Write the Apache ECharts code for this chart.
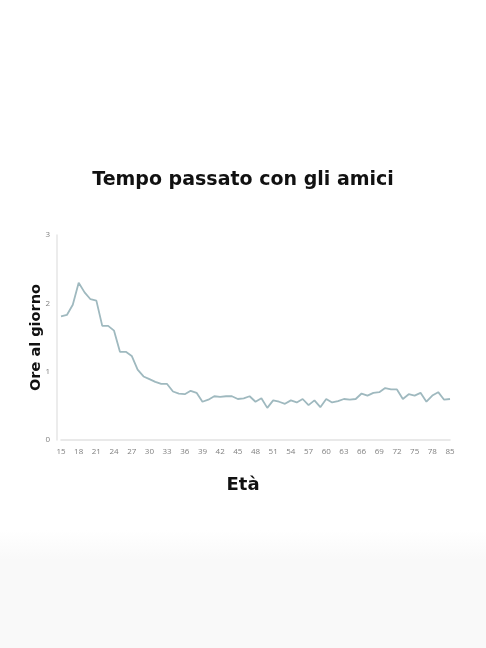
<!DOCTYPE html>
<html>
<head>
<meta charset="utf-8">
<script src="https://cdn.jsdelivr.net/npm/echarts@6/dist/echarts.min.js"></script>
<style>
html,body{margin:0;padding:0;width:486px;height:648px;background:linear-gradient(#ffffff 0px,#ffffff 530px,#f9f9f9 560px,#f9f9f9 648px);}
#c{width:486px;height:648px;}
</style>
</head>
<body>
<div id="c"></div>
<script>
const ages = ['15','16','17','18','19','20','21','22','23','24','25','26','27','28','29','30','31','32','33','34','35','36','37','38','39','40','41','42','43','44','45','46','47','48','49','50','51','52','53','54','55','56','57','58','59','60','61','62','63','64','65','66','67','68','69','70','71','72','73','74','75','76','77','78','79','80','85'];
const hoursPerDay = [1.81,1.83,1.98,2.30,2.16,2.06,2.04,1.67,1.67,1.60,1.29,1.29,1.23,1.03,0.93,0.89,0.85,0.82,0.82,0.71,0.68,0.67,0.72,0.69,0.56,0.59,0.64,0.63,0.64,0.64,0.60,0.61,0.64,0.56,0.61,0.47,0.58,0.56,0.53,0.58,0.55,0.60,0.51,0.58,0.48,0.60,0.55,0.57,0.60,0.59,0.60,0.68,0.65,0.69,0.70,0.76,0.74,0.74,0.60,0.67,0.65,0.69,0.56,0.65,0.70,0.59,0.60];
const yTicks = [0,1,2,3];

const boldFont = 'DejaVu Sans';
const chart = echarts.init(document.getElementById('c'), null, {renderer:'canvas'});
chart.setOption({
  backgroundColor: 'transparent',
  title: [{
    text: 'Tempo passato con gli amici',
    left: 'center', top: 166,
    textStyle: {fontFamily: boldFont, fontWeight: 'bold', fontSize: 19, color: '#111'}
  },{
    text: 'Età',
    left: 'center', top: 471,
    textStyle: {fontFamily: boldFont, fontWeight: 'bold', fontSize: 18, color: '#111'}
  }],
  grid: {left: 61, right: 36, top: 235, bottom: 208, containLabel: false},
  xAxis: {
    type: 'category',
    data: ages,
    boundaryGap: false,
    axisLine: {lineStyle: {color: '#e2e2e2', width: 1.5}},
    axisTick: {show: false},
    axisLabel: {interval: 2, color: '#808080', fontSize: 8, fontFamily: 'Open Sans', margin: 8},
    splitLine: {show: false}
  },
  yAxis: {
    type: 'value',
    min: yTicks[0], max: yTicks[yTicks.length-1], interval: 1,
    offset: 4,
    name: 'Ore al giorno',
    nameLocation: 'middle',
    nameGap: 13,
    nameMoveOverlap: false,
    nameRotate: 90,
    nameTextStyle: {fontFamily: boldFont, fontWeight: 'bold', fontSize: 14.5, color: '#111'},
    axisLine: {show: true, lineStyle: {color: '#e6e6e6', width: 1.5}},
    axisTick: {show: false},
    axisLabel: {color: '#808080', fontSize: 8, fontFamily: 'Open Sans', margin: 7},
    splitLine: {show: false}
  },
  series: [{
    type: 'line',
    data: hoursPerDay,
    symbol: 'none',
    smooth: false,
    lineStyle: {color: '#9fb9bf', width: 1.8},
    animation: false
  }]
});
</script>
</body>
</html>
